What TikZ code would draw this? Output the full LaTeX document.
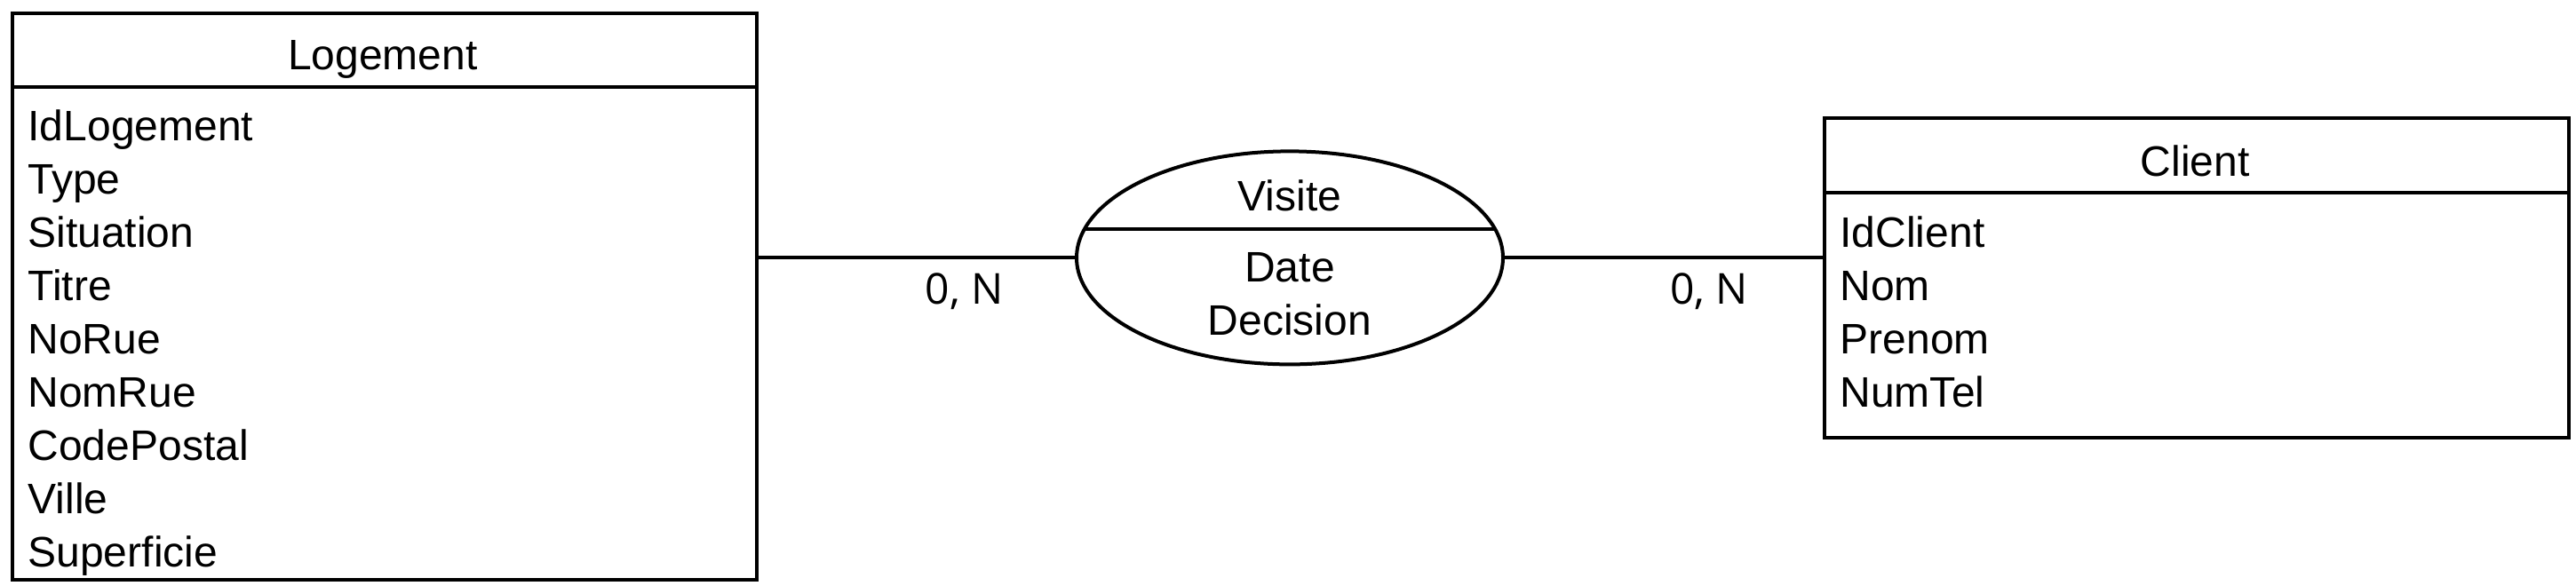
\documentclass[tikz,border=0pt]{standalone}
\usepackage{fontspec}
\setmainfont{Liberation Sans}
\newfontfamily\cardfont{Open Sans}
\usetikzlibrary{positioning}
\usetikzlibrary{shapes.geometric}

\tikzset{
    entity/.style={draw, rectangle, anchor=north west, inner sep=0pt},
    relation/.style={draw, ellipse, inner sep=0pt, minimum width=120pt, minimum height=60pt},
    attr/.style={anchor=base west, inner sep=0pt, font=\fontsize{12}{14}\selectfont},
    title/.style={anchor=base, inner sep=0pt, font=\fontsize{12}{14}\selectfont},
    card/.style={anchor=base, inner sep=0pt, font=\cardfont\fontsize{12}{14}\selectfont},
}

\begin{document}
\begin{tikzpicture}[x=1pt, y=-1pt, line width=1pt]
    \useasboundingbox (0,0) rectangle (725,165);
    % entities and relation
    \node [entity, minimum width=209.5pt, minimum height=159.5pt] (logement) at (3.1,3.3) {};
    \node [entity, minimum width=209.5pt, minimum height=90pt] (client) at (513.1,32.8) {};
    \node [relation] (visite) at (363,72.6) {};
    % header lines
    \draw ([yshift=-21.3pt]logement.north west) -- ([yshift=-21.3pt]logement.north east);
    \draw ([yshift=-21.5pt]client.north west) -- ([yshift=-21.5pt]client.north east);
    \draw ([shift={(-57.7pt,8.2pt)}]visite.center) -- ([shift={(57.7pt,8.2pt)}]visite.center);
    % titles
    \node [title] (logement-title) at (107.7,19.6) {Logement};
    \node [title] (client-title) at (617.8,49.6) {Client};
    \node [title] (visite-title) at (363,59.3) {Visite};
    % attributes
    \foreach \attr [count=\i] in {IdLogement, Type, Situation, Titre, NoRue, NomRue, CodePostal, Ville, Superficie}
        \node [attr] (log\i) at (7.4, 24.6+15*\i) {\attr};
    \foreach \attr [count=\i] in {IdClient, Nom, Prenom, NumTel}
        \node [attr] (cli\i) at (517.4, 54.6+15*\i) {\attr};
    \node [title] (visite1) at (363,79.3) {Date};
    \node [title] (visite2) at (363,94.4) {Decision};
    % links
    \draw (visite.west -| logement.east) -- (visite.west);
    \draw (visite.east) -- (visite.east -| client.west);
    \node [card] (card1) at (271.4,85.7) {0, N};
    \node [card] (card2) at (481,85.7) {0, N};
\end{tikzpicture}
\end{document}
